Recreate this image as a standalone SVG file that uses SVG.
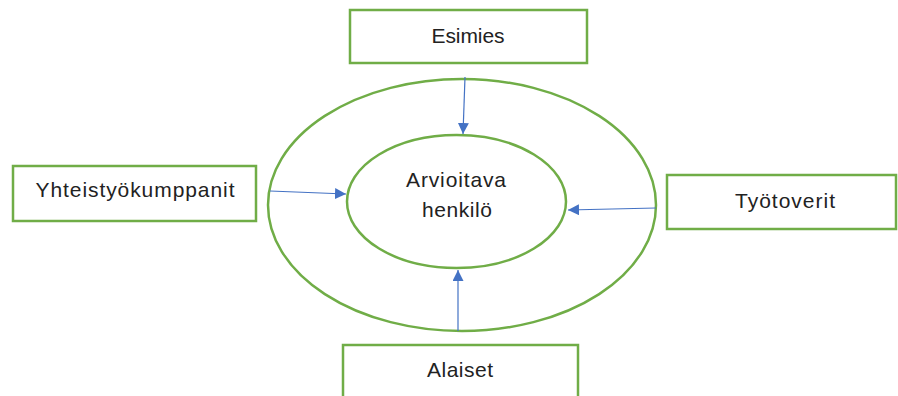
<svg xmlns="http://www.w3.org/2000/svg" width="898" height="396" viewBox="0 0 898 396">
<style>
.box{fill:#fff;stroke:#70AD47;stroke-width:2.5}
.ring{fill:none;stroke:#70AD47;stroke-width:2.5}
.lbl{font-family:"Liberation Sans",Arial,sans-serif;font-size:21px;fill:#222;text-anchor:middle}
.conn{stroke:#4472C4;stroke-width:1.2;fill:none;marker-end:url(#ah)}
</style>
<defs>
<marker id="ah" viewBox="0 0 10 10" refX="10" refY="5" markerWidth="11" markerHeight="11" markerUnits="userSpaceOnUse" orient="auto">
<path d="M0,0 L10,5 L0,10 Z" fill="#4472C4"/>
</marker>
</defs>
<rect width="898" height="396" fill="#fff"/>
<g id="outer">
<ellipse class="ring" cx="462" cy="205" rx="194" ry="126"/>
</g>
<g id="center">
<ellipse class="ring" cx="456.5" cy="201.5" rx="109.5" ry="66.5"/>
<text class="lbl" x="456" y="187" textLength="100">Arvioitava</text>
<text class="lbl" x="457" y="217" textLength="70">henkilö</text>
</g>
<g id="esimies">
<rect class="box" x="350" y="10" width="237" height="53"/>
<text class="lbl" x="468" y="43" textLength="73">Esimies</text>
</g>
<g id="yhteistyokumppanit">
<rect class="box" x="13" y="166" width="243" height="55"/>
<text class="lbl" x="135" y="197" textLength="199">Yhteistyökumppanit</text>
</g>
<g id="tyotoverit">
<rect class="box" x="667" y="175" width="229" height="54"/>
<text class="lbl" x="785" y="208" textLength="100">Työtoverit</text>
</g>
<g id="alaiset">
<rect class="box" x="343" y="345" width="235" height="60"/>
<text class="lbl" x="460" y="377" textLength="66">Alaiset</text>
</g>
<g id="connectors">
<line class="conn" x1="465" y1="77" x2="463" y2="134"/>
<line class="conn" x1="270" y1="191" x2="346" y2="194"/>
<line class="conn" x1="656" y1="208" x2="568" y2="210"/>
<line class="conn" x1="458" y1="331" x2="458" y2="270"/>
</g>
</svg>
